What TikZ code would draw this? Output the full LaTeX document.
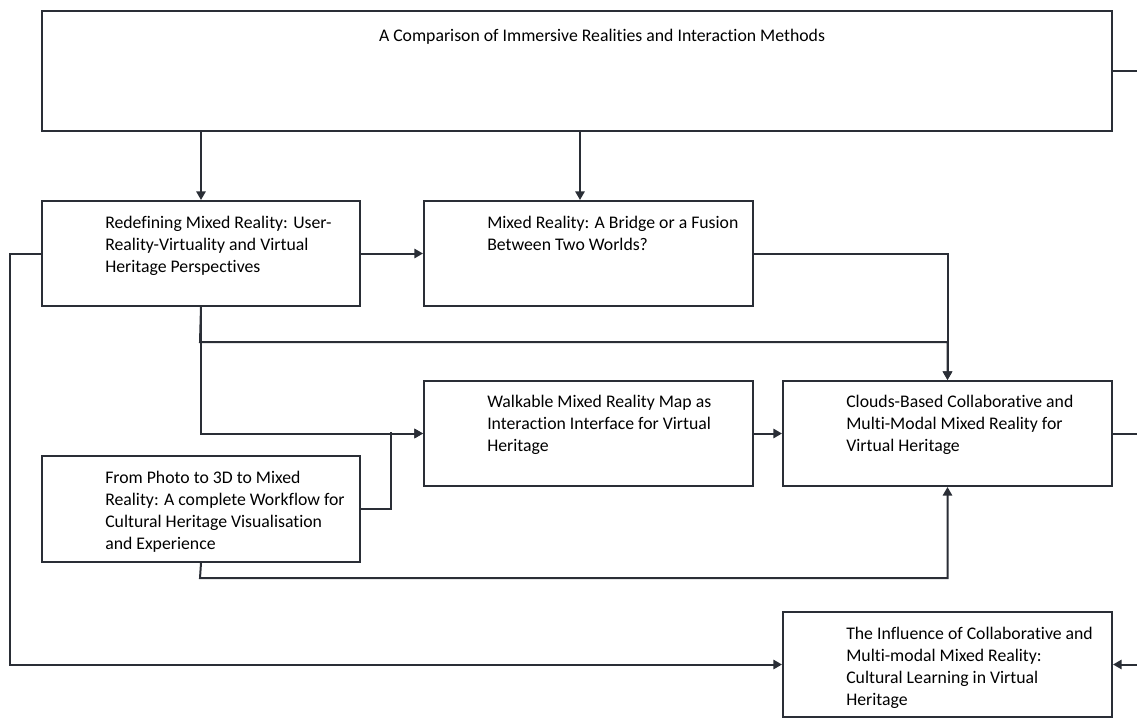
\documentclass[tikz,border=0pt]{standalone}
\usepackage{fontspec}
\setmainfont{Carlito}[Ligatures=NoCommon]
\usetikzlibrary{arrows.meta}
\definecolor{ink}{RGB}{42,46,54}
\begin{document}
\begin{tikzpicture}[x=0.75pt,y=-0.75pt,
  box/.style={draw=ink,line width=1.5pt,fill=white,rectangle,inner sep=0pt,anchor=north west},
  txt/.style={anchor=base west,inner sep=0pt,align=left,font=\fontsize{13.3pt}{16.3pt}\selectfont,text=black},
  link/.style={draw=ink,line width=1.5pt},
  arr/.style={link,-{Triangle[length=6.5pt,width=7pt]}}]
\useasboundingbox (0,0) rectangle (1137,717);
\coordinate (edge) at (1137,0);
\coordinate (leftx) at (10,0);
\coordinate (t2x) at (580,0);
\coordinate (j1) at (200,342);
\coordinate (j2) at (391,432);
\coordinate (j3) at (200,578);

% boxes
\node[box,minimum width=1070*0.75pt,minimum height=120*0.75pt] (top) at (41,10) {};
\node[box,minimum width=318*0.75pt,minimum height=105*0.75pt] (redef) at (41,200) {};
\node[box,minimum width=329*0.75pt,minimum height=105*0.75pt] (bridge) at (423,200) {};
\node[box,minimum width=329*0.75pt,minimum height=105*0.75pt] (walk) at (423,380) {};
\node[box,minimum width=329*0.75pt,minimum height=105*0.75pt] (clouds) at (782,380) {};
\node[box,minimum width=318*0.75pt,minimum height=106*0.75pt] (photo) at (41,455) {};
\node[box,minimum width=329*0.75pt,minimum height=105*0.75pt] (infl) at (782,611) {};

% texts (each node is placed by the baseline of its last line)
\node[txt,anchor=base] (top-t) at (602,41) {A Comparison of Immersive Realities and Interaction Methods};
\node[txt] (redef-t) at (105,272.4) {Redefining Mixed Reality: User-\\Reality-Virtuality and Virtual\\Heritage Perspectives};
\node[txt] (bridge-t) at (487,250.7) {Mixed Reality: A Bridge or a Fusion\\Between Two Worlds?};
\node[txt] (walk-t) at (487,451.4) {Walkable Mixed Reality Map as\\Interaction Interface for Virtual\\Heritage};
\node[txt] (clouds-t) at (846,451.4) {Clouds-Based Collaborative and\\Multi-Modal Mixed Reality for\\Virtual Heritage};
\node[txt] (photo-t) at (105,549) {From Photo to 3D to Mixed\\Reality: A complete Workflow for\\Cultural Heritage Visualisation\\and Experience};
\node[txt] (infl-t) at (846,705) {The Influence of Collaborative and\\Multi-modal Mixed Reality:\\Cultural Learning in Virtual\\Heritage};

% connectors
\draw[arr] (top.south -| redef.north) -- (redef.north);
\draw[arr] (top.south -| t2x) -- (t2x |- bridge.north);
\draw[link] (top.east) -- (top.east -| edge);
\draw[arr] (redef.east) -- (bridge.west);
\draw[arr] (bridge.east) -| (clouds.north);
\draw[arr] (redef.south) -- (j1) -| (clouds.north);
\draw[arr] (redef.south) |- (walk.west);
\draw[arr] (photo.east) -| (j2) |- (walk.west);
\draw[arr] (walk.east) -- (clouds.west);
\draw[arr] (photo.south) -- (j3) -| (clouds.south);
\draw[link] (clouds.east) -- (clouds.east -| edge);
\draw[arr] (redef.west) -| (leftx |- infl.west) -- (infl.west);
\draw[arr] (infl.east -| edge) -- (infl.east);
\end{tikzpicture}
\end{document}
